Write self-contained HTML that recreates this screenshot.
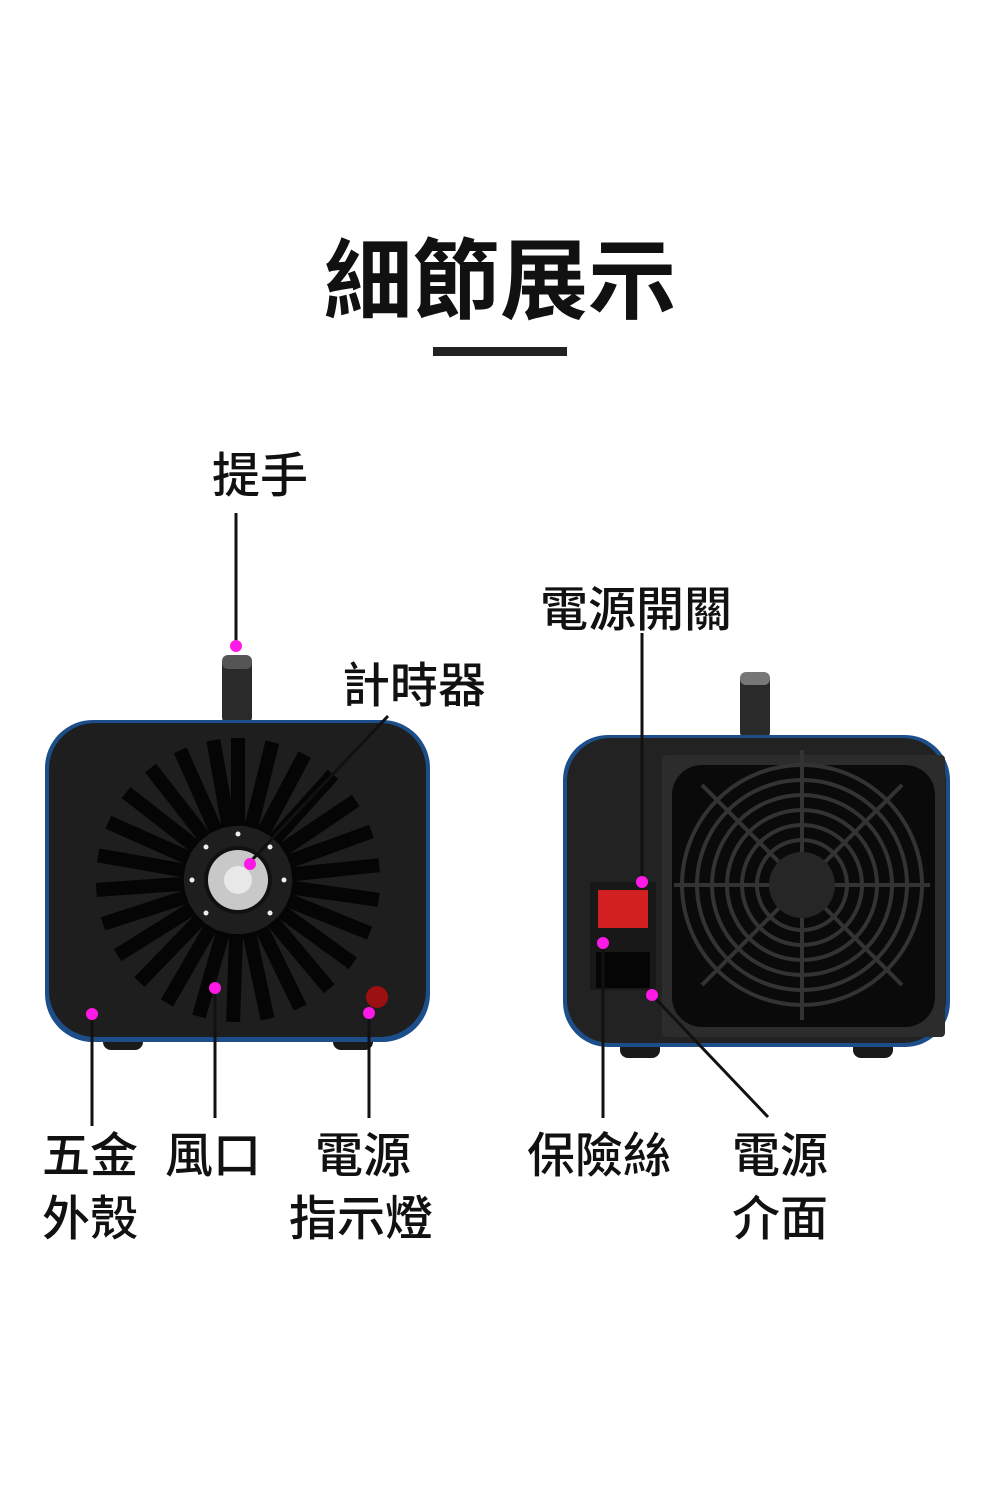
<!DOCTYPE html>
<html><head><meta charset="utf-8"><style>
body{margin:0;background:#fff;}
svg{display:block}
text{font-family:"Liberation Sans","Noto Sans CJK TC",sans-serif;fill:#111;}
</style></head><body>
<svg width="1000" height="1500" viewBox="0 0 1000 1500">
<defs>
<rect id="slot" x="-7" y="-142" width="14" height="88" fill="#050505"/>
</defs>
<text x="500" y="312" font-size="88" font-weight="bold" text-anchor="middle">細節展示</text>
<rect x="433" y="347" width="134" height="9" fill="#222"/>

<!-- left device -->
<rect x="222" y="655" width="30" height="70" rx="8" fill="#2a2a2a"/>
<rect x="222" y="655" width="30" height="14" rx="6" fill="#555"/>
<rect x="103" y="1030" width="40" height="20" rx="8" fill="#1a1a1a"/>
<rect x="333" y="1030" width="40" height="20" rx="8" fill="#1a1a1a"/>
<rect x="45" y="720" width="385" height="322" rx="48" fill="#1c4f8a"/>
<rect x="49" y="723" width="377" height="314" rx="46" fill="#1e1e1e"/>
<g transform="translate(238,880)" fill="#050505">
<use href="#slot" transform="rotate(0)"/><use href="#slot" transform="rotate(14)"/><use href="#slot" transform="rotate(28)"/><use href="#slot" transform="rotate(42)"/><use href="#slot" transform="rotate(56)"/><use href="#slot" transform="rotate(70)"/><use href="#slot" transform="rotate(84)"/><use href="#slot" transform="rotate(98)"/><use href="#slot" transform="rotate(112)"/><use href="#slot" transform="rotate(126)"/><use href="#slot" transform="rotate(140)"/><use href="#slot" transform="rotate(154)"/><use href="#slot" transform="rotate(168)"/><use href="#slot" transform="rotate(182)"/><use href="#slot" transform="rotate(196)"/><use href="#slot" transform="rotate(210)"/><use href="#slot" transform="rotate(224)"/><use href="#slot" transform="rotate(238)"/><use href="#slot" transform="rotate(252)"/><use href="#slot" transform="rotate(266)"/><use href="#slot" transform="rotate(280)"/><use href="#slot" transform="rotate(294)"/><use href="#slot" transform="rotate(308)"/><use href="#slot" transform="rotate(322)"/><use href="#slot" transform="rotate(336)"/><use href="#slot" transform="rotate(350)"/>
<circle r="34" fill="#111"/>
<circle r="30" fill="#c8c8c8"/>
<circle r="14" fill="#e8e8e8"/>
<g fill="#eee"><circle cx="0" cy="-46" r="2.5"/><circle cx="32" cy="-33" r="2.5"/><circle cx="46" cy="0" r="2.5"/><circle cx="32" cy="33" r="2.5"/><circle cx="-32" cy="33" r="2.5"/><circle cx="-46" cy="0" r="2.5"/><circle cx="-32" cy="-33" r="2.5"/></g>
</g>
<circle cx="377" cy="997" r="11" fill="#9b1010"/>

<!-- right device -->
<rect x="740" y="672" width="30" height="68" rx="8" fill="#2a2a2a"/>
<rect x="740" y="672" width="30" height="13" rx="6" fill="#777"/>
<rect x="620" y="1040" width="40" height="18" rx="8" fill="#1a1a1a"/>
<rect x="853" y="1040" width="40" height="18" rx="8" fill="#1a1a1a"/>
<rect x="563" y="735" width="387" height="312" rx="45" fill="#1c4f8a"/>
<rect x="567" y="738" width="379" height="305" rx="43" fill="#222"/>
<rect x="662" y="755" width="283" height="282" rx="4" fill="#2c2c2c"/>
<rect x="672" y="765" width="263" height="262" rx="30" fill="#0a0a0a"/>
<g transform="translate(802,885)" fill="none" stroke="#333" stroke-width="4">
<circle r="30"/><circle r="45"/><circle r="60"/><circle r="75"/><circle r="90"/><circle r="105"/><circle r="120"/>
<line x1="-128" y1="0" x2="128" y2="0"/><line x1="0" y1="-135" x2="0" y2="135"/>
<line x1="-100" y1="-100" x2="100" y2="100"/><line x1="-100" y1="100" x2="100" y2="-100"/>
<circle r="33" fill="#262626" stroke="none"/>
</g>
<rect x="590" y="882" width="66" height="108" fill="#181818"/>
<rect x="598" y="890" width="50" height="38" fill="#d21f1f"/>
<rect x="596" y="952" width="54" height="36" fill="#050505"/>

<!-- lines -->
<g stroke="#111" stroke-width="3" fill="none">
<line x1="236" y1="513" x2="236" y2="643"/>
<line x1="388" y1="716" x2="250" y2="862"/>
<line x1="642" y1="633" x2="642" y2="880"/>
<line x1="92" y1="1014" x2="92" y2="1126"/>
<line x1="215" y1="988" x2="215" y2="1118"/>
<line x1="369" y1="1013" x2="369" y2="1118"/>
<line x1="603" y1="943" x2="603" y2="1118"/>
<line x1="652" y1="995" x2="768" y2="1117"/>
</g>
<g fill="#ff19e6">
<circle cx="236" cy="646" r="6"/><circle cx="250" cy="864" r="6"/><circle cx="642" cy="882" r="6"/>
<circle cx="92" cy="1014" r="6"/><circle cx="215" cy="988" r="6"/><circle cx="369" cy="1013" r="6"/>
<circle cx="603" cy="943" r="6"/><circle cx="652" cy="995" r="6"/>
</g>

<g font-size="48" font-weight="500">
<text x="212" y="492">提手</text>
<text x="342" y="702">計時器</text>
<text x="540" y="626">電源開關</text>
<text x="42" y="1172">五金</text>
<text x="42" y="1235">外殼</text>
<text x="165" y="1172">風口</text>
<text x="315" y="1172">電源</text>
<text x="289" y="1235">指示燈</text>
<text x="527" y="1172">保險絲</text>
<text x="732" y="1172">電源</text>
<text x="732" y="1235">介面</text>
</g>
</svg>
</body></html>
